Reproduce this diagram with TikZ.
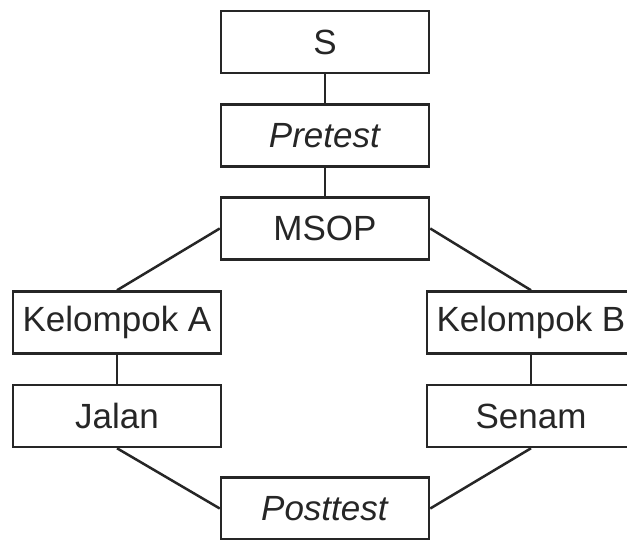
\documentclass[tikz,border=0pt]{standalone}
\usepackage{fontspec}
\setmainfont{Liberation Sans}
\tikzset{
  box/.style={draw=black!85, line width=2.5pt, minimum width=208pt, minimum height=62pt,
    inner sep=0pt, font=\fontsize{35}{42}\selectfont, text=black!85},
  link/.style={draw=black!85, line width=2.5pt}
}
\begin{document}
\begin{tikzpicture}[x=1pt,y=-1pt]

  % Canvas
  \useasboundingbox (0,0) rectangle (627,540);

  % Middle column
  \node[box] (s)        at (325,42)    {S};
  \node[box] (pretest)  at (325,135.5) {\textit{Pretest}};
  \node[box] (msop)     at (325,228.5) {MSOP};
  \node[box] (posttest) at (325,508.5) {\textit{Posttest}};

  % Left branch
  \node[box] (kela)  at (117,322.5) {Kelompok A};
  \node[box] (jalan) at (117,416)   {Jalan};

  % Right branch
  \node[box] (kelb)  at (531,322.5) {Kelompok B};
  \node[box] (senam) at (531,416)   {Senam};

  % Connectors
  \draw[link] (s) -- (pretest);
  \draw[link] (pretest) -- (msop);
  \draw[link] (msop.west) -- (kela.north);
  \draw[link] (msop.east) -- (kelb.north);
  \draw[link] (kela) -- (jalan);
  \draw[link] (kelb) -- (senam);
  \draw[link] (jalan.south) -- (posttest.west);
  \draw[link] (senam.south) -- (posttest.east);

\end{tikzpicture}
\end{document}
